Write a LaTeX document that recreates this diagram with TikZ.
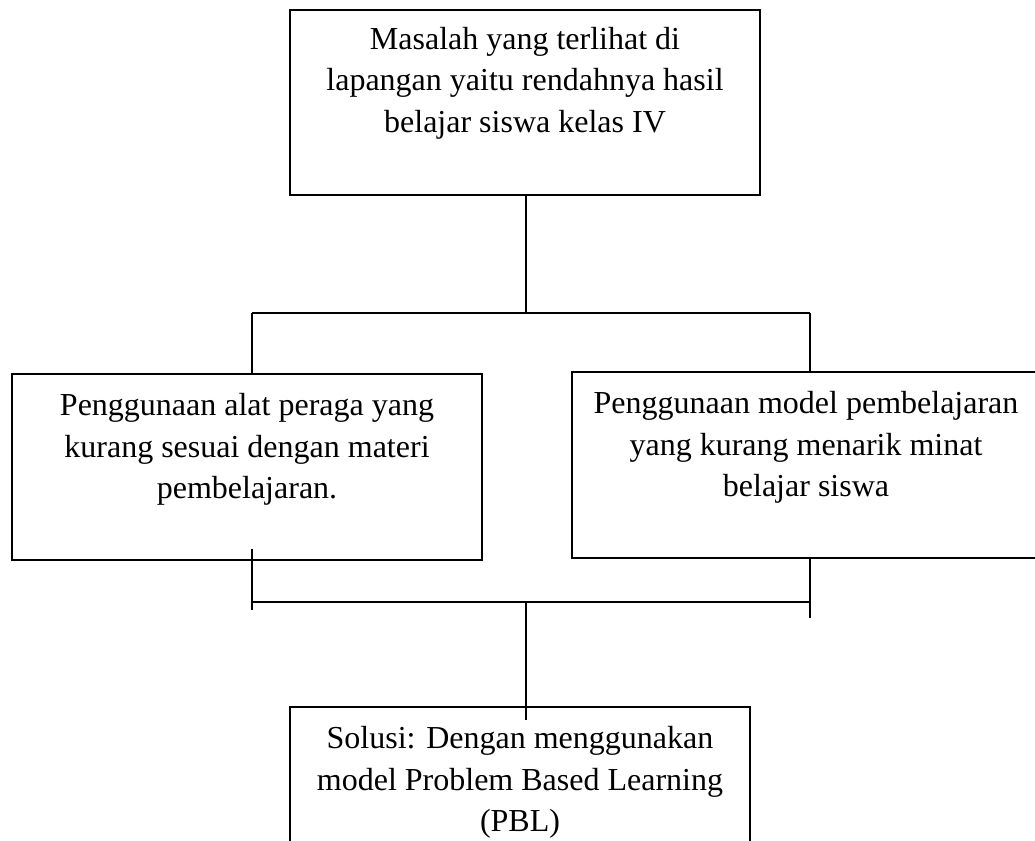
\documentclass[tikz,border=0pt]{standalone}
\usepackage{fontspec}
\setmainfont{Liberation Serif}
\begin{document}
\begin{tikzpicture}[x=1pt,y=-1pt, line width=1.7pt,
  box/.style={draw, rectangle, inner sep=0pt},
  txt/.style={align=center, font=\fontsize{32}{41.5}\selectfont, inner sep=0pt}]
\clip (0,0) rectangle (1035,840);
\fill[white] (0,0) rectangle (1035,840);
% boxes
\node[box, minimum width=470pt, minimum height=185pt] (top) at (525,102.5) {};
\node[box, minimum width=470pt, minimum height=186pt] (left) at (247,467) {};
\node[box, minimum width=468pt, minimum height=186pt] (right) at (806,465) {};
\node[box, minimum width=460pt, minimum height=163pt] (bottom) at (520,788.5) {};
% texts
\node[txt] (ttop) at (525,83) {Masalah yang terlihat di\\lapangan yaitu rendahnya hasil\\belajar siswa kelas IV};
\node[txt] (tleft) at (247,449.5) {Penggunaan alat peraga yang\\kurang sesuai dengan materi\\pembelajaran.};
\node[txt] (tright) at (806,447.5) {Penggunaan model pembelajaran\\yang kurang menarik minat\\belajar siswa};
\node[txt] (tbottom) at (520,782.5) {Solusi: Dengan menggunakan\\model Problem Based Learning\\(PBL)};
% upper connectors
\coordinate (j1) at (526,313);
\coordinate (jl) at (252,313);
\coordinate (jr) at (810,313);
\draw (j1 |- top.south) -- (j1);
\draw (jl) -- (jr);
\draw (jl) -- (jl |- left.north);
\draw (jr) -- (jr |- right.north);
% lower connectors
\coordinate (ltop) at (252,549);
\coordinate (lbot) at (252,610);
\coordinate (bl) at (252,602);
\coordinate (br) at (810,602);
\coordinate (rbot) at (810,618);
\coordinate (bc) at (526,602);
\coordinate (bin) at (526,720);
\draw (ltop) -- (lbot);
\draw (br |- right.south) -- (rbot);
\draw (bl) -- (br);
\draw (bc) -- (bin);
\end{tikzpicture}
\end{document}
